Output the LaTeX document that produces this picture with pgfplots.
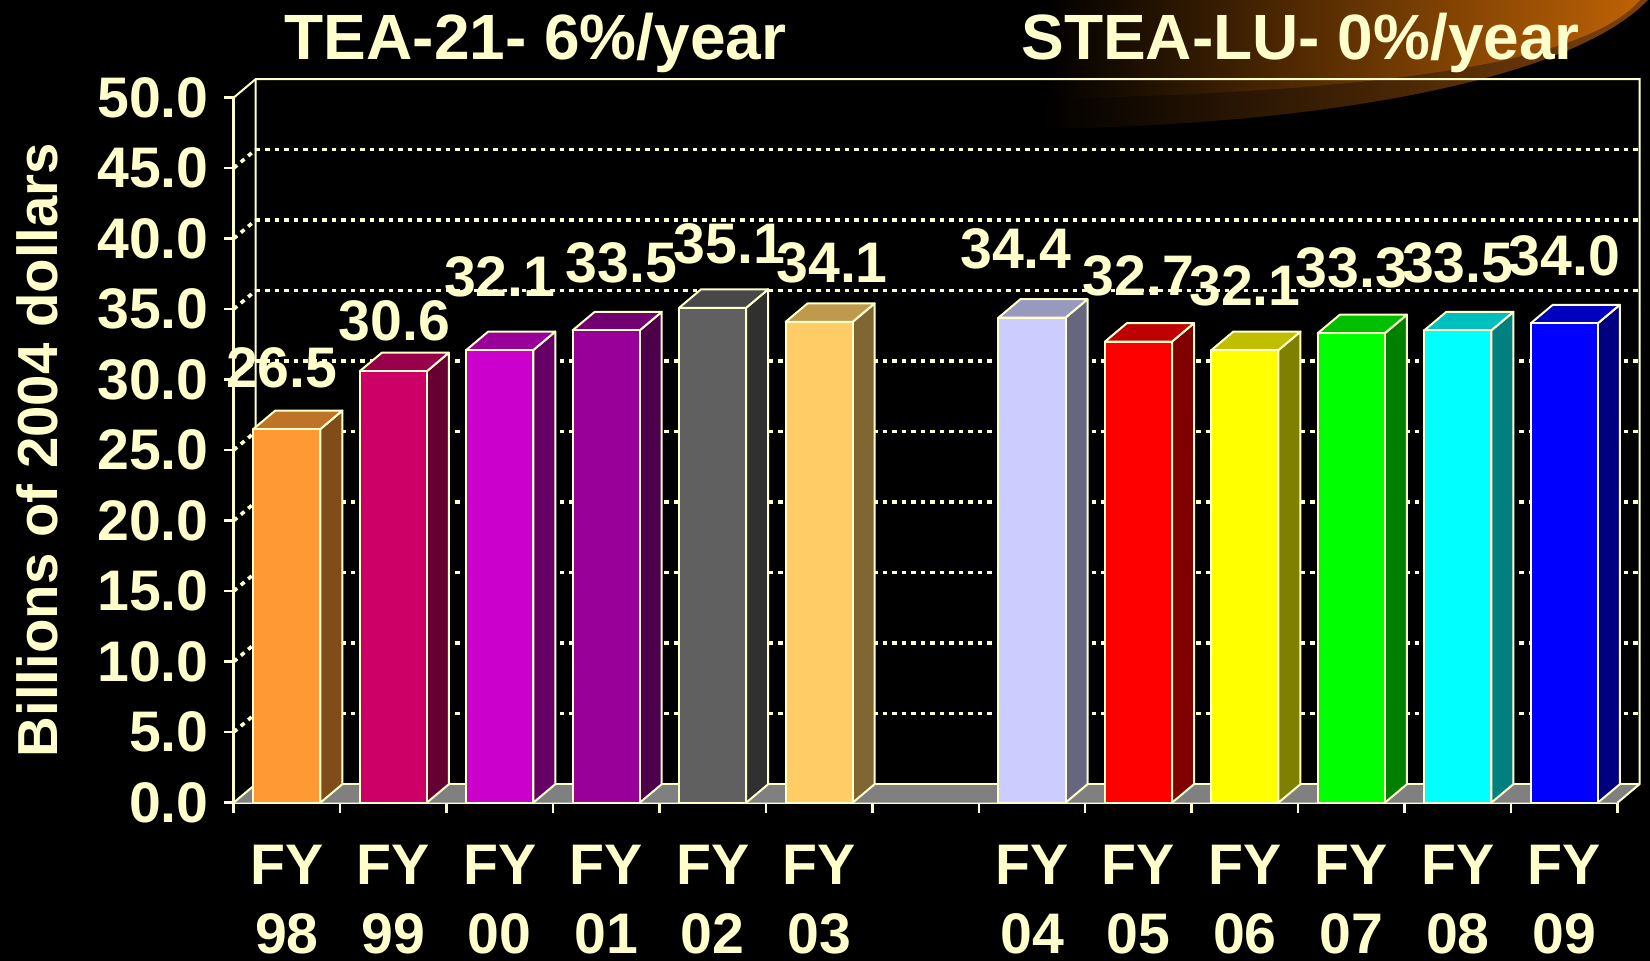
\documentclass[border=0pt]{standalone}
\usepackage{pgfplots}
\pgfplotsset{compat=1.18}
\usepackage{pgfplotstable}
\usepackage{fontspec}
\setmainfont{Liberation Sans}
\definecolor{cream}{HTML}{FFFFCC}
\definecolor{b0}{HTML}{FF9933}
\definecolor{b1}{HTML}{CC0066}
\definecolor{b2}{HTML}{CC00CC}
\definecolor{b3}{HTML}{990099}
\definecolor{b4}{HTML}{606060}
\definecolor{b5}{HTML}{FFCC66}
\definecolor{b6}{HTML}{CCCCFF}
\definecolor{b7}{HTML}{FF0000}
\definecolor{b8}{HTML}{FFFF00}
\definecolor{b9}{HTML}{00FF00}
\definecolor{b10}{HTML}{00FFFF}
\definecolor{b11}{HTML}{0000FF}
\definecolor{floorgray}{HTML}{808080}
\definecolor{swA}{RGB}{125,65,10}
\definecolor{swB}{RGB}{190,98,5}

\pgfplotstableread{
x v lab lx ly
0 26.5 26.5 -2.5 30.5
1 30.6 30.6 0.5 25
2 32.1 32.1 0 36.5
3 33.5 33.5 7.5 33.5
4 35.1 35.1 8.5 32
5 34.1 34.1 6.5 29.5
7 34.4 34.4 -8 34.5
8 32.7 32.7 0 33
9 32.1 32.1 0 32
10 33.3 33.3 0 32.5
11 33.5 33.5 0 33.5
12 34.0 34.0 0 33.5
}\data

\newcommand\lbl{\fontsize{28.6}{34.75}\selectfont\bfseries}
\tikzset{
  bar face/.style={draw=cream, line width=1pt, line join=round},
  gridline/.style={cream, line width=1.8pt, dash pattern=on 2.3pt off 2.45pt},
}

\begin{document}
\begin{tikzpicture}
\fill[black] (0,0) rectangle (825pt,480.5pt);
% decorative swoosh
\shade[left color=black, right color=swA] (520pt,480.5pt) -- (520pt,416pt) .. controls (660pt,418pt) and (785pt,440pt) .. (824pt,480.5pt) -- cycle;
\shade[left color=black, right color=swB] (522pt,480.5pt) -- (522pt,431pt) .. controls (710pt,435pt) and (795pt,452pt) .. (820pt,480.5pt) -- cycle;

\begin{axis}[
  at={(116.8pt,79.15pt)}, anchor=south west,
  width=691.95pt, height=352.5pt, scale only axis,
  xmin=-0.5, xmax=12.5, ymin=0, ymax=50,
  clip=false,
  axis x line*=bottom, axis y line*=left,
  axis line style={cream, line width=1.2pt},
  tick style={cream, line width=1.2pt},
  tick align=outside,
  major tick length=5pt, minor tick length=5pt,
  ytick={0,5,...,50},
  xtick={0,1,2,3,4,5,7,8,9,10,11,12},
  xticklabels={{FY\\98},{FY\\99},{FY\\00},{FY\\01},{FY\\02},{FY\\03},{FY\\04},{FY\\05},{FY\\06},{FY\\07},{FY\\08},{FY\\09}},
  minor xtick={-0.5,0.5,...,12.5},
  major x tick style={draw=none},
  xticklabel style={font=\lbl, text=cream, anchor=north, inner sep=0pt, yshift=-16pt, align=center},
  yticklabel style={font=\lbl, text=cream, anchor=east, inner sep=0pt, xshift=-7.3pt,
    /pgf/number format/.cd, fixed, fixed zerofill, precision=1, assume math mode=true},
]
% floor
\fill[floorgray] (axis cs:-0.5,0) -- (axis cs:12.5,0) -- ([shift={(11pt,9.25pt)}]axis cs:12.5,0) -- ([shift={(11pt,9.25pt)}]axis cs:-0.5,0) -- cycle;
% back wall grid
\pgfplotsinvokeforeach{5,10,...,45}{
  \draw[gridline] ([shift={(11pt,9.25pt)}]axis cs:-0.5,#1) -- ([shift={(11pt,9.25pt)}]axis cs:12.5,#1);
  \draw[gridline] (axis cs:-0.5,#1) -- ([shift={(11pt,9.25pt)}]axis cs:-0.5,#1);
}
% wall edges
\draw[cream, line width=1pt] (axis cs:-0.5,50) -- ([shift={(11pt,9.25pt)}]axis cs:-0.5,50) -- ([shift={(11pt,9.25pt)}]axis cs:12.5,50) -- ([shift={(11pt,9.25pt)}]axis cs:12.5,0) -- (axis cs:12.5,0);
\draw[cream, line width=1pt] ([shift={(11pt,9.25pt)}]axis cs:-0.5,50) -- ([shift={(11pt,9.25pt)}]axis cs:-0.5,0) -- (axis cs:-0.5,0);
\draw[cream, line width=1pt] ([shift={(11pt,9.25pt)}]axis cs:-0.5,0) -- ([shift={(11pt,9.25pt)}]axis cs:12.5,0);
% 3D bars
\pgfplotsforeachungrouped \i in {0,...,11}{%
  \pgfplotstablegetelem{\i}{x}\of{\data}\let\X\pgfplotsretval
  \pgfplotstablegetelem{\i}{v}\of{\data}\let\V\pgfplotsretval
  \pgfmathsetmacro\xl{\X-0.315}%
  \pgfmathsetmacro\xr{\X+0.315}%
  \pgfmathsetmacro\xlb{\X-0.315+0.2068}%
  \pgfmathsetmacro\xrb{\X+0.315+0.2068}%
  \pgfmathsetmacro\vb{\V+1.312}%
  \edef\tmp{%
    \noexpand\addplot[bar face, fill=b\i!50!black] coordinates {(\xr,0) (\xrb,1.312) (\xrb,\vb) (\xr,\V)} -- cycle;
    \noexpand\addplot[bar face, fill=b\i!75!black] coordinates {(\xl,\V) (\xr,\V) (\xrb,\vb) (\xlb,\vb)} -- cycle;
    \noexpand\addplot[bar face, fill=b\i] coordinates {(\xl,0) (\xr,0) (\xr,\V) (\xl,\V)} -- cycle;
  }\tmp
}
% value labels
\addplot[draw=none, nodes near coords, point meta=explicit symbolic,
  visualization depends on={\thisrow{lx}\as\labdx},
  visualization depends on={\thisrow{ly}\as\labdy},
  every node near coord/.append style={font=\lbl, text=cream, anchor=center, inner sep=0pt, xshift=\labdx pt, yshift=\labdy pt}]
  table[x=x, y=v, meta=lab]{\data};
\end{axis}

\node[font=\fontsize{32}{38}\selectfont\bfseries, text=cream, anchor=base] at (267.8pt,450.6pt) {TEA-21- 6\%/year};
\node[font=\fontsize{32}{38}\selectfont\bfseries, text=cream, anchor=base] at (650.3pt,450.6pt) {STEA-LU- 0\%/year};
\node[rotate=90, anchor=base, font=\fontsize{28.2}{34}\selectfont\bfseries, text=cream, inner sep=0pt] at (28.95pt,255.5pt) {Billions of 2004 dollars};

\pgfresetboundingbox
\path[use as bounding box] (0,0) rectangle (825pt,480.5pt);
\end{tikzpicture}
\end{document}
